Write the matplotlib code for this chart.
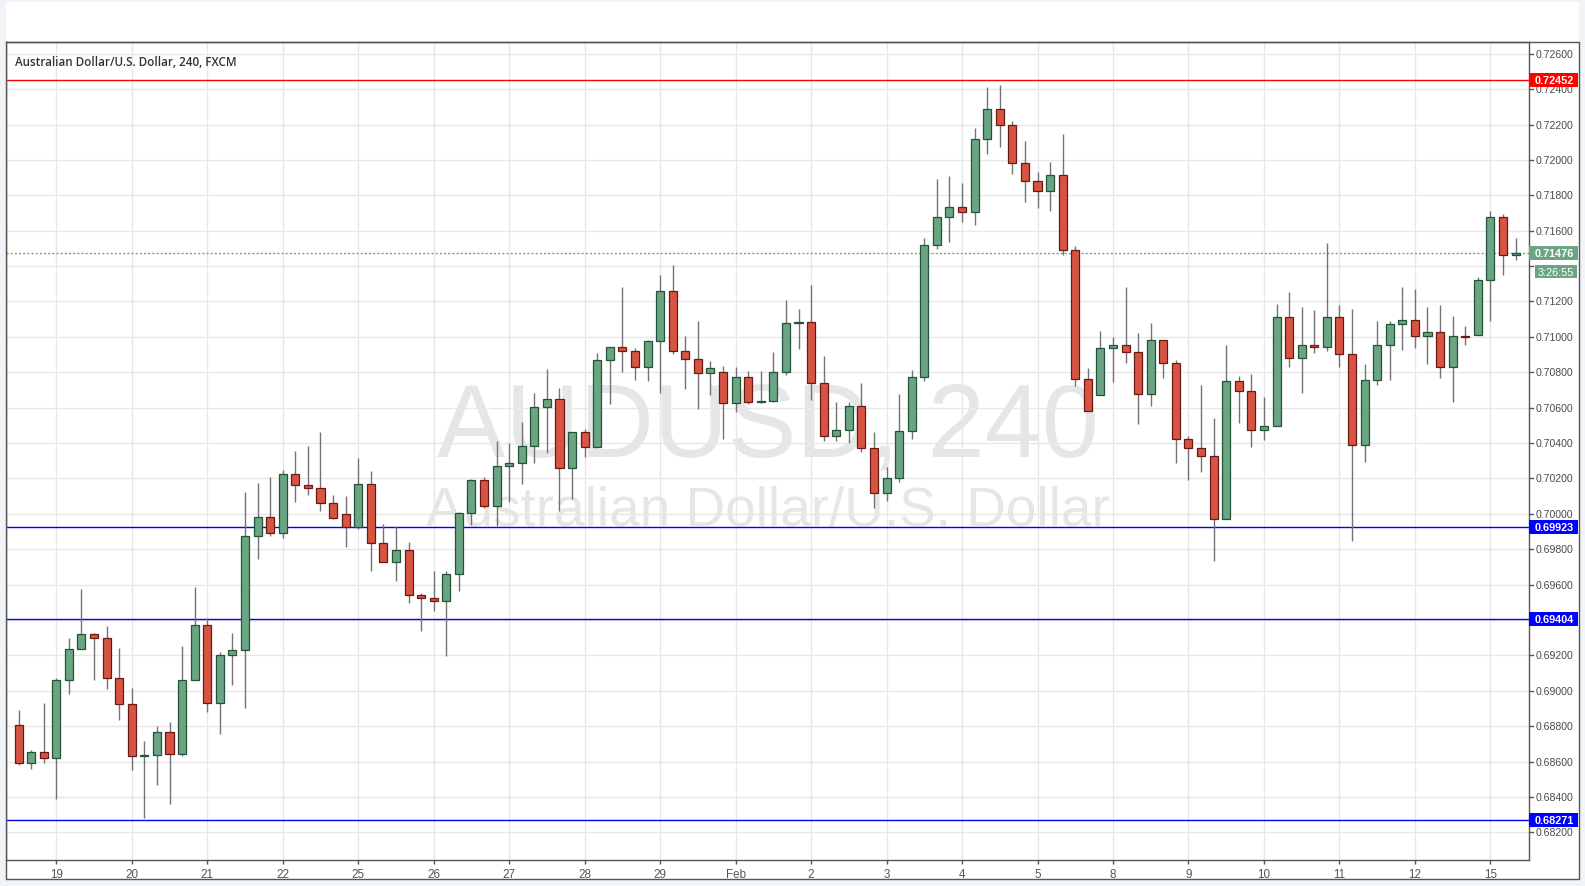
import matplotlib
matplotlib.use('Agg')
import matplotlib.pyplot as plt
from matplotlib.patches import Rectangle
from matplotlib import font_manager

# 4h candles AUD/USD, 18 Jan - 15 Feb
opens = [0.68805, 0.68591, 0.68653, 0.68619, 0.69060, 0.69235, 0.69319, 0.69297, 0.69071, 0.68924,
         0.68630, 0.68636, 0.68766, 0.68642, 0.69060, 0.69370, 0.68930, 0.69201, 0.69229, 0.69873,
         0.69980, 0.69890, 0.70223, 0.70161, 0.70144, 0.70059, 0.69997, 0.69924, 0.70167, 0.69834,
         0.69726, 0.69794, 0.69540, 0.69523, 0.69506, 0.69658, 0.70003, 0.70189, 0.70043, 0.70269,
         0.70285, 0.70382, 0.70602, 0.70647, 0.70257, 0.70461, 0.70376, 0.70867, 0.70941, 0.70918,
         0.70828, 0.70975, 0.71257, 0.70918, 0.70873, 0.70794, 0.70800, 0.70624, 0.70771, 0.70630,
         0.70636, 0.70800, 0.71076, 0.71082, 0.70737, 0.70438, 0.70472, 0.70607, 0.70370, 0.70116,
         0.70201, 0.70466, 0.70771, 0.71517, 0.71675, 0.71732, 0.71703, 0.72116, 0.72285, 0.72200,
         0.71980, 0.71878, 0.71822, 0.71912, 0.71489, 0.70760, 0.70670, 0.70935, 0.70952, 0.70912,
         0.70675, 0.70980, 0.70850, 0.70421, 0.70370, 0.70325, 0.69969, 0.70749, 0.70692, 0.70472,
         0.70494, 0.71110, 0.70879, 0.70952, 0.70941, 0.71110, 0.70901, 0.70387, 0.70754, 0.70952,
         0.71071, 0.71093, 0.71003, 0.71025, 0.70828, 0.71003, 0.71009, 0.71319, 0.71675, 0.71464]
highs = [0.68892, 0.68664, 0.68932, 0.69073, 0.69299, 0.69576, 0.69327, 0.69367, 0.69242, 0.69016,
         0.68717, 0.68802, 0.68824, 0.69254, 0.69587, 0.69410, 0.69218, 0.69327, 0.70124, 0.70174,
         0.70208, 0.70248, 0.70355, 0.70383, 0.70462, 0.70107, 0.70101, 0.70316, 0.70242, 0.69943,
         0.69930, 0.69841, 0.69553, 0.69677, 0.69677, 0.70009, 0.70197, 0.70206, 0.70410, 0.70398,
         0.70517, 0.70681, 0.70816, 0.70709, 0.70461, 0.70478, 0.70907, 0.70941, 0.71280, 0.70935,
         0.70980, 0.71347, 0.71404, 0.71003, 0.71088, 0.70862, 0.70833, 0.70828, 0.70805, 0.70805,
         0.70912, 0.71206, 0.71155, 0.71293, 0.70890, 0.70630, 0.70630, 0.70737, 0.70461, 0.70263,
         0.70677, 0.70811, 0.71558, 0.71892, 0.71909, 0.71869, 0.72178, 0.72411, 0.72423, 0.72217,
         0.72106, 0.71929, 0.71988, 0.72146, 0.71513, 0.70824, 0.71033, 0.70999, 0.71282, 0.71022,
         0.71078, 0.70980, 0.70867, 0.70438, 0.70728, 0.70542, 0.70954, 0.70779, 0.70790, 0.70658,
         0.71184, 0.71253, 0.71169, 0.71152, 0.71530, 0.71180, 0.71157, 0.70847, 0.71090, 0.71090,
         0.71282, 0.71270, 0.71169, 0.71180, 0.71118, 0.71061, 0.71338, 0.71711, 0.71694, 0.71558]
lows = [0.68578, 0.68561, 0.68594, 0.68391, 0.68984, 0.69235, 0.69063, 0.69013, 0.68837, 0.68555,
        0.68284, 0.68465, 0.68363, 0.68634, 0.69060, 0.68883, 0.68758, 0.69035, 0.68903, 0.69747,
        0.69877, 0.69866, 0.70069, 0.70108, 0.70018, 0.69969, 0.69815, 0.69913, 0.69679, 0.69726,
        0.69623, 0.69498, 0.69340, 0.69453, 0.69195, 0.69566, 0.69937, 0.70035, 0.69930, 0.70065,
        0.70167, 0.70285, 0.70342, 0.70014, 0.70082, 0.70319, 0.70376, 0.70619, 0.70800, 0.70754,
        0.70749, 0.70681, 0.70901, 0.70703, 0.70591, 0.70673, 0.70425, 0.70577, 0.70619, 0.70624,
        0.70630, 0.70783, 0.70929, 0.70641, 0.70410, 0.70410, 0.70398, 0.70348, 0.70031, 0.70071,
        0.70182, 0.70423, 0.70752, 0.71498, 0.71538, 0.71651, 0.71634, 0.72035, 0.72074, 0.71922,
        0.71764, 0.71726, 0.71713, 0.71460, 0.70724, 0.70579, 0.70670, 0.70745, 0.70854, 0.70510,
        0.70611, 0.70769, 0.70289, 0.70193, 0.70238, 0.69736, 0.69969, 0.70515, 0.70380, 0.70419,
        0.70494, 0.70832, 0.70685, 0.70911, 0.70922, 0.70832, 0.69845, 0.70295, 0.70730, 0.70758,
        0.70928, 0.70939, 0.70848, 0.70769, 0.70634, 0.70956, 0.71009, 0.71091, 0.71351, 0.71436]
closes = [0.68591, 0.68653, 0.68619, 0.69060, 0.69235, 0.69319, 0.69297, 0.69071, 0.68924, 0.68630,
          0.68636, 0.68766, 0.68642, 0.69060, 0.69370, 0.68930, 0.69201, 0.69229, 0.69873, 0.69980,
          0.69890, 0.70223, 0.70161, 0.70144, 0.70059, 0.69975, 0.69924, 0.70167, 0.69834, 0.69726,
          0.69794, 0.69540, 0.69523, 0.69506, 0.69658, 0.70003, 0.70189, 0.70043, 0.70269, 0.70285,
          0.70382, 0.70602, 0.70647, 0.70257, 0.70461, 0.70376, 0.70867, 0.70941, 0.70918, 0.70828,
          0.70975, 0.71257, 0.70918, 0.70873, 0.70794, 0.70822, 0.70624, 0.70771, 0.70630, 0.70636,
          0.70800, 0.71076, 0.71082, 0.70737, 0.70438, 0.70472, 0.70607, 0.70370, 0.70116, 0.70201,
          0.70466, 0.70771, 0.71517, 0.71675, 0.71732, 0.71703, 0.72116, 0.72285, 0.72200, 0.71980,
          0.71878, 0.71822, 0.71912, 0.71489, 0.70760, 0.70579, 0.70935, 0.70952, 0.70912, 0.70675,
          0.70980, 0.70850, 0.70421, 0.70370, 0.70325, 0.69969, 0.70749, 0.70692, 0.70472, 0.70494,
          0.71110, 0.70879, 0.70952, 0.70941, 0.71110, 0.70901, 0.70387, 0.70754, 0.70952, 0.71071,
          0.71093, 0.71003, 0.71025, 0.70828, 0.71003, 0.70997, 0.71319, 0.71675, 0.71464, 0.71476]

day_labels = ['19', '20', '21', '22', '25', '26', '27', '28', '29', 'Feb',
              '2', '3', '4', '5', '8', '9', '10', '11', '12', '15']
day_index = [3 + 6 * k for k in range(len(day_labels))]

price_ticks = [0.682 + 0.002 * k for k in range(23)]

levels = [0.72452, 0.69923, 0.69404, 0.68271]
level_colors = ['#ff0000', '#0000ff', '#0000ff', '#0000ff']
last_price = 0.71476
countdown = '3:26:55'

UP, DOWN = '#6ba583', '#d75442'
UP_EDGE, DOWN_EDGE = '#225437', '#6b1a13'
WICK = '#737375'
GRID = '#e7e7e7'
AXC = '#555555'

names = {f.name for f in font_manager.fontManager.ttflist}
narrow = 'Liberation Sans Narrow' if 'Liberation Sans Narrow' in names else 'Liberation Sans'
title_font = 'Open Sans' if 'Open Sans' in names else 'DejaVu Sans'

W, H = 1585, 887
fig = plt.figure(figsize=(W / 100, H / 100), dpi=100)
fig.patch.set_facecolor('white')

# pixel geometry of the pane
x0, x1 = 6.3, 1529.0
ytop, ybot = 42.5, 861.0
ax = fig.add_axes([x0 / W, (H - ybot) / H, (x1 - x0) / W, (ybot - ytop) / H])
ax.set_xlim(-0.975, 120.07)
ax.set_ylim(0.68044, 0.72669)
ax.set_facecolor('white')

# grid
ax.set_yticks(price_ticks)
ax.tick_params(axis='y', length=0, labelleft=False)
ax.set_xticks(day_index)
ax.set_xticklabels(day_labels, fontsize=8.4, color=AXC, family=narrow)
ax.tick_params(axis='x', length=3, width=1, color=AXC, pad=3)
ax.grid(True, color=GRID, linewidth=1, zorder=0)
ax.set_axisbelow(True)
for s in ax.spines.values():
    s.set_color(AXC)
    s.set_linewidth(1)

# watermark
ax.text(0.5, 0.4936, 'AUDUSD, 240', transform=ax.transAxes, ha='center', va='baseline',
        fontsize=74, color='#e6e6e6', family='Liberation Sans', zorder=0.5)
ax.text(0.5, 0.4093, 'Australian Dollar/U.S. Dollar', transform=ax.transAxes, ha='center',
        va='baseline', fontsize=39.5, color='#e6e6e6', family='Liberation Sans', zorder=0.5)

ax.text(0.0057, 0.9717, 'Australian Dollar/U.S. Dollar, 240, FXCM', transform=ax.transAxes,
        ha='left', va='baseline', fontsize=8.4, color='#333333', family=title_font,
        fontweight='semibold', zorder=6)

# levels
for lv, c in zip(levels, level_colors):
    ax.axhline(lv, color=c, linewidth=1, zorder=2)
ax.axhline(last_price, color=UP, linewidth=1, linestyle=(0, (1.5, 1.5)), zorder=2)

# candles
bw = 0.64
for i in range(len(opens)):
    o, h, l, c = opens[i], highs[i], lows[i], closes[i]
    up = c >= o
    ax.vlines(i, l, h, color=WICK, linewidth=1.0, zorder=3)
    bot = min(o, c)
    ht = max(abs(c - o), 0.00003)
    ax.add_patch(Rectangle((i - bw / 2, bot), bw, ht,
                           facecolor=UP if up else DOWN,
                           edgecolor=UP_EDGE if up else DOWN_EDGE,
                           linewidth=0.9, zorder=4))

# price scale
pax = fig.add_axes([x1 / W, (H - ybot) / H, (1578 - x1) / W, (ybot - ytop) / H])
pax.set_xlim(0, 49)
pax.set_ylim(ax.get_ylim())
pax.axis('off')

px = 1 / 17698.0
box_h = 14 * px
cd_y = last_price - 19 * px
cd_h = 13 * px

for p in price_ticks:
    pax.plot([0, 4], [p, p], color=AXC, linewidth=1)
    # the countdown box hides the label under it
    if abs(p - cd_y) < cd_h / 2:
        continue
    pax.text(6.5, p, f'{p:.5f}', ha='left', va='center', fontsize=7.6,
             color='#4a4a4a', family='Liberation Sans')

for lv, c in zip(levels + [last_price], level_colors + [UP]):
    pax.add_patch(Rectangle((0, lv - box_h / 2), 49, box_h, facecolor=c,
                            edgecolor='none', zorder=5))
    pax.text(6.0, lv, f'{lv:.5f}', ha='left', va='center', fontsize=7.8,
             color='white', fontweight='bold', family='Liberation Sans', zorder=6)
pax.add_patch(Rectangle((6, cd_y - cd_h / 2), 42, cd_h, facecolor=UP,
                        edgecolor='none', zorder=5))
pax.text(27, cd_y, countdown, ha='center', va='center', fontsize=7.8,
         color='white', family='Liberation Sans', zorder=6)

# outer frame and strips
ov = fig.add_axes([0, 0, 1, 1])
ov.set_xlim(0, W)
ov.set_ylim(H, 0)
ov.axis('off')
ov.patch.set_alpha(0)
ov.set_zorder(10)
strip = '#f0f3f7'
ov.add_patch(Rectangle((0, 0), W, 3, facecolor=strip, edgecolor='none'))
ov.add_patch(Rectangle((0, 0), 5.5, H, facecolor=strip, edgecolor='none'))
ov.add_patch(Rectangle((1579, 0), 6, H, facecolor=strip, edgecolor='none'))
ov.add_patch(Rectangle((0, 881), W, 6, facecolor=strip, edgecolor='none'))
ov.plot([6, 1578.5, 1578.5, 6, 6], [42.5, 42.5, 880.5, 880.5, 42.5], color=AXC, linewidth=1)

fig.savefig('out.png', dpi=100, facecolor=fig.get_facecolor())
